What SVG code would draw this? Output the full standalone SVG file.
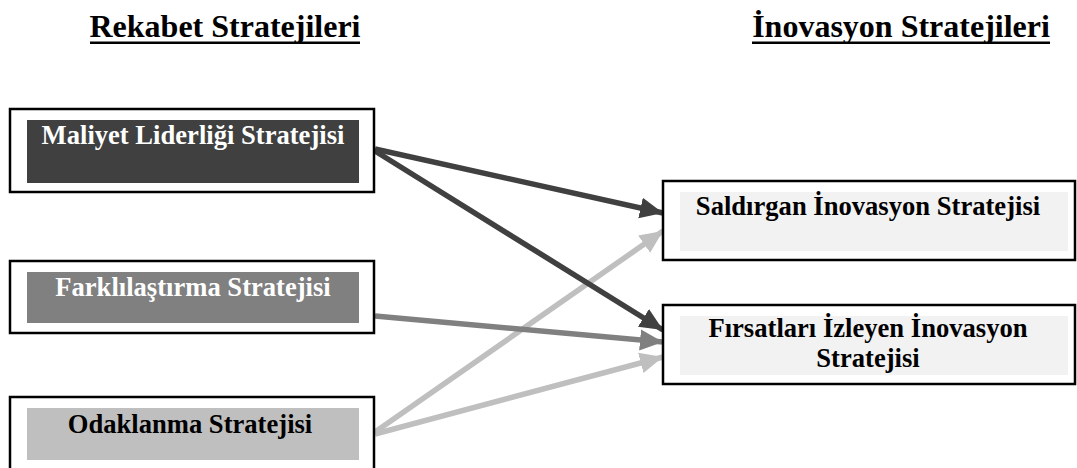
<svg xmlns="http://www.w3.org/2000/svg" width="1077" height="468" viewBox="0 0 1077 468">
  <style>
    .head { font-family: "Liberation Serif", "Times New Roman", serif; font-weight: bold; font-size: 32px; fill: #000; text-anchor: middle; }
    .lbl { font-family: "Liberation Serif", "Times New Roman", serif; font-weight: bold; font-size: 26.6px; text-anchor: middle; }
    .frame { fill: #fff; stroke: #000; stroke-width: 2.5; }
    .conn { fill: none; stroke-width: 5.5; }
  </style>
  <defs>
    <marker id="head-dark" markerUnits="userSpaceOnUse" markerWidth="24" markerHeight="24" refX="23" refY="12" orient="auto">
      <path d="M0,1.5 L23,12 L0,22.5 z" fill="#404040"/>
    </marker>
    <marker id="head-mid" markerUnits="userSpaceOnUse" markerWidth="24" markerHeight="24" refX="23" refY="12" orient="auto">
      <path d="M0,1.5 L23,12 L0,22.5 z" fill="#808080"/>
    </marker>
    <marker id="head-light" markerUnits="userSpaceOnUse" markerWidth="24" markerHeight="24" refX="23" refY="12" orient="auto">
      <path d="M0,1.5 L23,12 L0,22.5 z" fill="#bfbfbf"/>
    </marker>
  </defs>

  <rect width="1077" height="468" fill="#fff"/>

  <!-- column headings -->
  <g id="heading-left">
    <text class="head" x="225" y="37">Rekabet Stratejileri</text>
    <rect x="90" y="41.5" width="270" height="2.5" fill="#000"/>
  </g>
  <g id="heading-right">
    <text class="head" x="901" y="37">İnovasyon Stratejileri</text>
    <rect x="752" y="41.5" width="298" height="2.5" fill="#000"/>
  </g>

  <!-- connectors -->
  <g id="connectors">
    <line class="conn" stroke="#bfbfbf" x1="375" y1="432" x2="663" y2="231" marker-end="url(#head-light)"/>
    <line class="conn" stroke="#bfbfbf" x1="375" y1="434" x2="663" y2="357" marker-end="url(#head-light)"/>
    <line class="conn" stroke="#808080" x1="375" y1="316" x2="663" y2="342" marker-end="url(#head-mid)"/>
    <line class="conn" stroke="#404040" x1="375" y1="149" x2="663" y2="213" marker-end="url(#head-dark)"/>
    <line class="conn" stroke="#404040" x1="375" y1="151" x2="663" y2="330" marker-end="url(#head-dark)"/>
  </g>

  <!-- competitive strategies -->
  <g id="node-maliyet">
    <rect class="frame" x="10" y="109" width="364" height="83"/>
    <rect x="27" y="120" width="332" height="63" fill="#404040"/>
    <text class="lbl" x="193" y="144" fill="#fff">Maliyet Liderliği Stratejisi</text>
  </g>
  <g id="node-farklilastirma">
    <rect class="frame" x="10" y="261" width="364" height="72"/>
    <rect x="27" y="272" width="332" height="51" fill="#808080"/>
    <text class="lbl" x="193" y="296" fill="#fff">Farklılaştırma Stratejisi</text>
  </g>
  <g id="node-odaklanma">
    <rect class="frame" x="10" y="397" width="364" height="80"/>
    <rect x="27" y="408" width="332" height="52" fill="#bfbfbf"/>
    <text class="lbl" x="190" y="433" fill="#000">Odaklanma Stratejisi</text>
  </g>

  <!-- innovation strategies -->
  <g id="node-saldirgan">
    <rect class="frame" x="663" y="181" width="412" height="79"/>
    <rect x="680" y="192" width="388" height="59" fill="#f2f2f2"/>
    <text class="lbl" x="868" y="215" fill="#000">Saldırgan İnovasyon Stratejisi</text>
  </g>
  <g id="node-firsatlari">
    <rect class="frame" x="663" y="305" width="412" height="79"/>
    <rect x="680" y="316" width="388" height="59" fill="#f2f2f2"/>
    <text class="lbl" x="868" y="337" fill="#000">Fırsatları İzleyen İnovasyon</text>
    <text class="lbl" x="868" y="367" fill="#000">Stratejisi</text>
  </g>
</svg>
